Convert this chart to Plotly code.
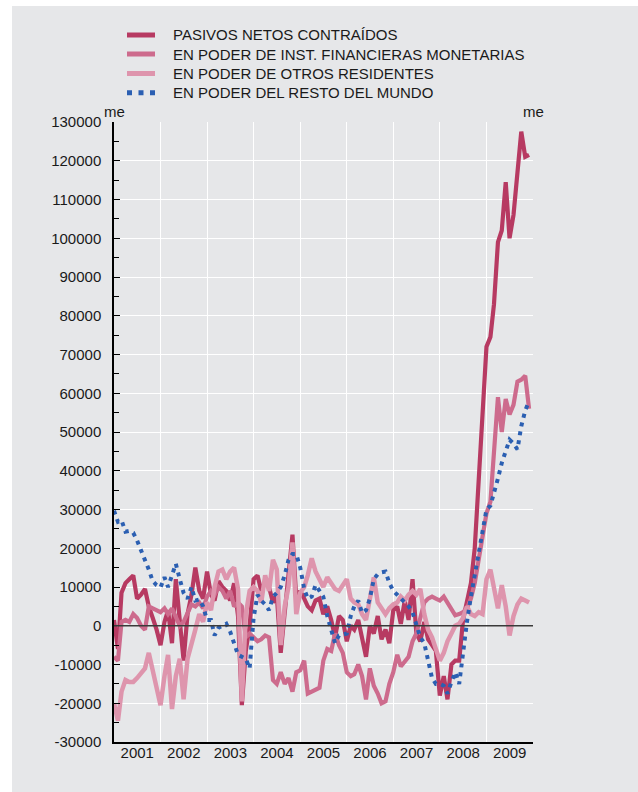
import pandas as pd
import plotly.graph_objects as go

# Monthly observations, January 2001 - December 2009 (millions of euros)
months = pd.date_range("2001-01-01", periods=108, freq="MS")

pasivos_netos = [
    # 2001
    1500, -6000, 8500, 11000, 12000, 13000, 7000, 8000, 9500, 5000, 2000, -1000,
    # 2002
    -5000, 1000, 4000, -4500, 12000, 0, -9000, 3000, 8000, 15000, 9000, 7000,
    # 2003
    14000, 8000, 6500, 11500, 10000, 9000, 6500, 11000, 2500, -20500, -6500, 0,
    # 2004
    12000, 13000, 9000, 11500, 10000, 6000, 8000, -7000, 3000, 12000, 23500, 7000,
    # 2005
    9000, 7000, 5000, 4000, 6500, 7000, 3000, 5000, 1500, -3000, 2500, 1500,
    # 2006
    -4000, 0, -1000, 1500, -3000, -8000, 0, -2000, 2500, -3500, -1000, -4500,
    # 2007
    4000, 5000, 500, 6500, 1500, 12000, -2000, -4000, 1000, -3500, -5000, -6500,
    # 2008
    -18000, -13000, -19000, -10000, -9000, -9000, 1500, 6500, 11000, 20000, 38000, 55000,
    # 2009
    72000, 74500, 83000, 99000, 102000, 114500, 100000, 106000, 116500, 127500, 121000, 121500,
]

inst_financieras = [
    # 2001
    -8000, -9000, 1000, 1500, 1000, 3000, 2000, 0, -1000, 5000, 4500, 4000,
    # 2002
    3500, 4500, 3000, 4500, 2000, 0, 1000, 3000, 5500, 5000, 6000, 4500,
    # 2003
    7500, 9000, 8000, 10000, 9000, 7000, 9000, 5000, 6000, 5000, -3000, -2000,
    # 2004
    -3000, -4000, -3500, -2500, -3000, -14000, -15000, -12000, -15000, -13500, -17000, -12000,
    # 2005
    -11500, -9000, -17500, -17000, -16500, -16000, -9000, -6000, -6500, -2000, -5000, -7000,
    # 2006
    -12000, -13000, -12500, -10000, -13000, -19000, -11000, -15500, -17500, -20000, -19500, -15000,
    # 2007
    -12000, -7500, -10500, -9000, -8000, -4000, -2000, 2000, 6000, 7000, 7500, 7000,
    # 2008
    6500, 7500, 6000, 4000, 2700, 3000, 3500, 4500, 7000, 11000, 17000, 24000,
    # 2009
    29000, 32000, 44000, 59000, 50000, 58500, 54500, 57000, 63000, 63500, 64500, 56000,
]

otros_residentes = [
    # 2001
    -20000, -24500, -17000, -14000, -14500, -14500, -13500, -12000, -11000, -7000, -11500, -16500,
    # 2002
    -20500, -13000, -7500, -21500, -13000, -8500, -19000, -8500, -5000, -1000, 3000, 1000,
    # 2003
    6000, 4000, 10000, 14000, 14500, 12000, 14000, 15000, 9500, -19500, 3000, 9000,
    # 2004
    10000, 9000, 6000, 13000, 9000, 17000, 14500, -5000, 5000, 10000, 21500, 3000,
    # 2005
    8500, 10000, 13000, 17400, 14000, 12000, 10000, 12500, 11000, 9500, 9000, 10500,
    # 2006
    12000, 7000, 6000, 5500, 3000, 1500, 7000, 12500, 6000, 4500, 3000, 4500,
    # 2007
    5500, 6000, 7500, 6500, 8000, 9000, 8000, 9500, 3000, -1000, -3000, -6000,
    # 2008
    -9000, -7000, -4000, -2000, 0, 500, 2000, 5000, 3000, 2500, 3500, 3000,
    # 2009
    12000, 14500, 9000, 4500, 10500, 5000, -2500, 2500, 5500, 7000, 6500, 6000,
]

resto_mundo = [
    # 2001
    29700, 26800, 27200, 24300, 24500, 24000, 22000, 19500, 17200, 14500, 11500, 10500,
    # 2002
    9900, 12500, 10000, 13500, 16000, 12000, 8500, 7000, 10000, 6500, 6800, 5000,
    # 2003
    1500, 1500, -2500, -500, 0, 500, -1500, -4500, -7500, -8000, -8500, -11000,
    # 2004
    2000, 8000, 6500, 5500, 4000, 7500, 8500, 10000, 13000, 17000, 18500, 18500,
    # 2005
    15000, 9500, 7000, 7500, 10500, 9000, 7500, 2500, -1000, -4500, -2500, -2200,
    # 2006
    -2000, 2500, 5000, 6500, 3300, 4000, 7000, 12000, 13300, 13800, 14000, 11000,
    # 2007
    9000, 8000, 7000, 6000, 5000, 3500, 500, -3000, -4500, -8500, -13500, -15000,
    # 2008
    -15000, -15500, -17500, -14500, -12000, -15000, -6000, 1000, 7500, 13000, 18500, 24500,
    # 2009
    30000, 31000, 34000, 38000, 42000, 45000, 48000, 47000, 45500, 51500, 55500, 58000,
]

y_ticks = list(range(-30000, 130001, 10000))
y_tick_text = [str(v) for v in y_ticks]

FONT = "Liberation Sans, Arial, Helvetica, sans-serif"
TEXT = "#1a1a1a"
PANEL = "#e6e7e9"

# plot area in pixels: x 114..533, y 122..742
PLOT_L, PLOT_R, PLOT_T, PLOT_B = 114, 533, 122, 742


def px_x(px):
    return (px - PLOT_L) / (PLOT_R - PLOT_L)


def px_y(py):
    return (PLOT_B - py) / (PLOT_B - PLOT_T)


series = [
    ("PASIVOS NETOS CONTRAÍDOS", pasivos_netos, "#b73a62", 4.2, "solid", "solid"),
    ("EN PODER DE INST. FINANCIERAS MONETARIAS", inst_financieras, "#cd6b8d", 4.2, "solid", "solid"),
    ("EN PODER DE OTROS RESIDENTES", otros_residentes, "#de95ad", 4.5, "solid", "solid"),
    ("EN PODER DEL RESTO DEL MUNDO", resto_mundo, "#2b5fb2", 4.0, "4px,5px", "5px,6.5px"),
]

fig = go.Figure()
for name, values, color, width, dash, _ in series:
    fig.add_trace(go.Scatter(
        x=months, y=values, name=name, mode="lines",
        line=dict(color=color, width=width, dash=dash),
        showlegend=False,
    ))

# legend drawn as line samples + labels above the plot
legend_rows_px = [35, 54, 73.5, 92.8]
legend_shapes = []
legend_labels = []
for (name, _, color, _, _, sample_dash), row in zip(series, legend_rows_px):
    legend_shapes.append(dict(
        type="line", xref="paper", yref="paper",
        x0=px_x(127), x1=px_x(155), y0=px_y(row), y1=px_y(row),
        line=dict(color=color, width=5, dash=sample_dash), layer="above",
    ))
    legend_labels.append(dict(
        text=name, xref="paper", yref="paper",
        x=px_x(171), y=px_y(row), xanchor="left", yanchor="middle",
        showarrow=False, font=dict(family=FONT, size=15, color=TEXT),
    ))

axis_common = dict(
    range=[-30000, 130000],
    tickmode="array", tickvals=y_ticks, ticktext=y_tick_text,
    ticks="inside", ticklen=6, tickwidth=1.2, tickcolor="black",
    minor=dict(tickmode="linear", tick0=0, dtick=5000, ticks="inside",
               ticklen=5, tickwidth=1.2, tickcolor="black", showgrid=False),
    showline=True, linecolor="black", linewidth=1.5,
    zeroline=False,
    tickfont=dict(family=FONT, size=15, color=TEXT),
)

fig.update_layout(
    width=638, height=792,
    margin=dict(l=PLOT_L, r=638 - PLOT_R, t=PLOT_T, b=792 - PLOT_B),
    paper_bgcolor="white",
    plot_bgcolor=PANEL,
    font=dict(family=FONT, size=15, color=TEXT),
    showlegend=False,
    xaxis=dict(
        type="date",
        range=["2001-01-01", "2010-01-01"],
        tick0="2001-01-01", dtick="M12",
        ticklabelmode="period", tickformat="%Y",
        showgrid=True, gridcolor="white", gridwidth=1.3,
        showline=True, linecolor="black", linewidth=1.5,
        ticks="", ticklabelstandoff=-4,
        tickfont=dict(family=FONT, size=15, color=TEXT),
    ),
    yaxis=dict(
        **axis_common,
        showgrid=True, gridcolor="white", gridwidth=1.3,
        ticklabelstandoff=8,
    ),
    yaxis2=dict(
        **axis_common,
        overlaying="y", side="right", anchor="x",
        showgrid=False,
        ticklabelstandoff=12,
    ),
    shapes=[
        # grey panel behind the whole chart
        dict(type="rect", xref="paper", yref="paper",
             x0=px_x(12), x1=px_x(645), y0=px_y(800), y1=px_y(6),
             fillcolor=PANEL, line=dict(width=0), layer="below"),
        # zero reference line
        dict(type="line", xref="paper", yref="y", x0=0, x1=1, y0=0, y1=0,
             line=dict(color="#3a3a3a", width=1.3), layer="above"),
    ] + legend_shapes,
    annotations=[
        dict(text="me", xref="paper", yref="paper", x=0, y=1,
             xanchor="center", yanchor="bottom", showarrow=False,
             font=dict(family=FONT, size=15, color=TEXT)),
        dict(text="me", xref="paper", yref="paper", x=1, y=1,
             xanchor="center", yanchor="bottom", showarrow=False,
             font=dict(family=FONT, size=15, color=TEXT)),
    ] + legend_labels,
)

fig.write_html("out.html")
